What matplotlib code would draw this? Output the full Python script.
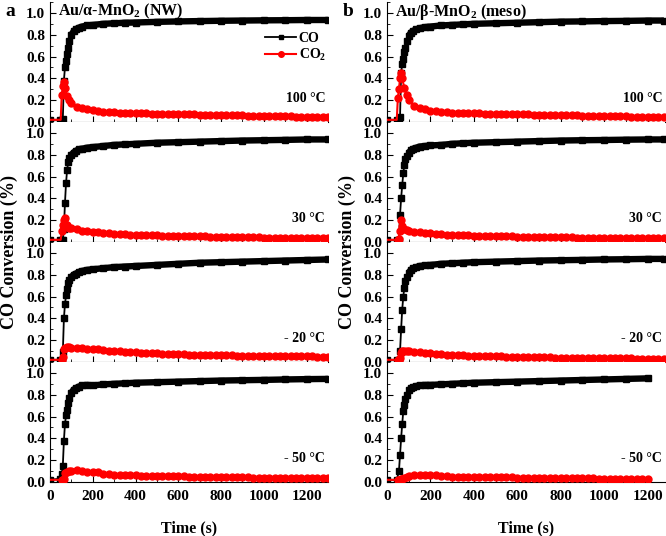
import numpy as np
import matplotlib
matplotlib.use("Agg")
import matplotlib.pyplot as plt
from matplotlib.ticker import MultipleLocator

plt.rcParams['font.family'] = ['Liberation Serif', 'DejaVu Serif']
plt.rcParams['font.weight'] = 'bold'
plt.rcParams['mathtext.fontset'] = 'custom'
plt.rcParams['mathtext.rm'] = 'Liberation Serif:bold'
plt.rcParams['mathtext.it'] = 'Liberation Serif:bold'
plt.rcParams['mathtext.bf'] = 'Liberation Serif:bold'
plt.rcParams['mathtext.default'] = 'rm'

# ---- data ----
titles = ['Au/α-MnO$_2$ (NW)', 'Au/β-MnO$_2$ (meso)']
panel_tags = ['a', 'b']
temps = ['100 °C', '30 °C', '- 20 °C', '- 50 °C']

# column a: time grids (s)
t_co_a = [0, 45, 55, 60, 65, 70, 75, 80, 85, 90, 100, 110, 120, 135, 150, 175, 200,
          250, 300, 350, 400, 500, 600, 700, 800, 900, 1000, 1100, 1200, 1300]
t_co2_a = [0, 50, 55, 60, 65, 70, 80, 90,
           100, 125, 150, 175, 200, 225, 250, 275, 300,
           325, 350, 375, 400, 425, 450, 475, 500, 525, 550,
           575, 600, 625, 650, 675, 700, 725, 750, 775, 800,
           825, 850, 875, 900, 925, 950, 975, 1000, 1025, 1050,
           1075, 1100, 1125, 1150, 1175, 1200, 1225, 1250, 1275, 1300]

co_a1 = [0.02, 0.02, 0.02, 0.03, 0.38, 0.50, 0.56, 0.62, 0.68, 0.74, 0.80, 0.83, 0.85, 0.865,
         0.875, 0.885, 0.89, 0.90, 0.905, 0.91, 0.912, 0.918, 0.922, 0.925, 0.928, 0.93,
         0.932, 0.933, 0.935, 0.935]
co_a2 = [0.02, 0.02, 0.02, 0.02, 0.12, 0.36, 0.54, 0.66, 0.73, 0.77, 0.80, 0.82, 0.835, 0.85,
         0.855, 0.865, 0.87, 0.88, 0.89, 0.895, 0.90, 0.91, 0.915, 0.92, 0.925, 0.93,
         0.933, 0.936, 0.94, 0.94]
co_a3 = [0.02, 0.02, 0.02, 0.09, 0.40, 0.53, 0.61, 0.67, 0.72, 0.75, 0.78, 0.80, 0.81, 0.825,
         0.835, 0.845, 0.85, 0.86, 0.87, 0.875, 0.88, 0.89, 0.90, 0.91, 0.915, 0.92,
         0.925, 0.93, 0.935, 0.94]
co_a4 = [0.02, 0.03, 0.07, 0.15, 0.38, 0.53, 0.61, 0.66, 0.72, 0.77, 0.82, 0.845, 0.86, 0.875,
         0.885, 0.89, 0.885, 0.895, 0.90, 0.905, 0.91, 0.915, 0.92, 0.925, 0.93, 0.933,
         0.936, 0.94, 0.943, 0.945]

co2_a1 = [0.02, 0.02, 0.25, 0.33, 0.37, 0.31, 0.24, 0.20,
          0.17, 0.14, 0.13, 0.12, 0.11, 0.10, 0.095, 0.09, 0.088,
          0.086, 0.084, 0.082, 0.080, 0.079, 0.078, 0.077, 0.076, 0.075, 0.074,
          0.073, 0.072, 0.071, 0.070, 0.069, 0.068, 0.067, 0.066, 0.065, 0.064,
          0.063, 0.062, 0.061, 0.060, 0.059, 0.058, 0.057, 0.056, 0.055, 0.054,
          0.053, 0.052, 0.051, 0.050, 0.049, 0.048, 0.047, 0.047, 0.046, 0.045]
co2_a2 = [0.02, 0.02, 0.10, 0.16, 0.20, 0.22, 0.16, 0.13,
          0.125, 0.115, 0.105, 0.10, 0.095, 0.09, 0.085, 0.08, 0.076,
          0.073, 0.070, 0.068, 0.066, 0.064, 0.062, 0.061, 0.060, 0.059, 0.058,
          0.057, 0.056, 0.055, 0.054, 0.053, 0.052, 0.051, 0.050, 0.049, 0.048,
          0.047, 0.046, 0.045, 0.044, 0.044, 0.043, 0.042, 0.041, 0.041, 0.040,
          0.039, 0.039, 0.038, 0.038, 0.037, 0.037, 0.036, 0.036, 0.035, 0.035]
co2_a3 = [0.02, 0.02, 0.02, 0.05, 0.12, 0.13, 0.135, 0.135,
          0.13, 0.13, 0.125, 0.122, 0.12, 0.115, 0.11, 0.105, 0.10,
          0.097, 0.094, 0.091, 0.088, 0.085, 0.082, 0.080, 0.078, 0.076, 0.074,
          0.072, 0.070, 0.069, 0.068, 0.067, 0.066, 0.065, 0.064, 0.063, 0.062,
          0.061, 0.060, 0.059, 0.058, 0.058, 0.057, 0.056, 0.055, 0.055, 0.054,
          0.054, 0.053, 0.053, 0.052, 0.052, 0.051, 0.051, 0.050, 0.050, 0.050]
co2_a4 = [0.02, 0.02, 0.02, 0.02, 0.03, 0.08, 0.09, 0.10,
          0.105, 0.11, 0.10, 0.095, 0.092, 0.09, 0.075, 0.07, 0.067,
          0.065, 0.063, 0.061, 0.060, 0.059, 0.058, 0.057, 0.056, 0.055, 0.054,
          0.053, 0.052, 0.051, 0.050, 0.049, 0.048, 0.047, 0.046, 0.045, 0.045,
          0.044, 0.044, 0.043, 0.042, 0.042, 0.041, 0.041, 0.040, 0.040, 0.039,
          0.039, 0.038, 0.038, 0.037, 0.037, 0.036, 0.036, 0.035, 0.035, 0.035]

# column b
t_co_b = [0, 45, 55, 60, 65, 70, 75, 80, 85, 90, 100, 110, 120, 135, 150, 175, 200,
          250, 300, 350, 400, 500, 600, 700, 800, 900, 1000, 1100, 1200, 1275]
t_co2_b = [0, 45, 50, 55, 60, 65, 70, 80, 90,
           100, 125, 150, 175, 200, 225, 250, 275, 300,
           325, 350, 375, 400, 425, 450, 475, 500, 525, 550,
           575, 600, 625, 650, 675, 700, 725, 750, 775, 800,
           825, 850, 875, 900, 925, 950, 975, 1000, 1025, 1050,
           1075, 1100, 1125, 1150, 1175, 1200, 1225, 1250, 1275]

co_b1 = [0.02, 0.02, 0.02, 0.05, 0.45, 0.53, 0.58, 0.64, 0.68, 0.74, 0.79, 0.82, 0.835, 0.85,
         0.86, 0.87, 0.875, 0.885, 0.89, 0.895, 0.90, 0.905, 0.91, 0.915, 0.92, 0.922,
         0.925, 0.927, 0.93, 0.93]
co_b2 = [0.02, 0.02, 0.02, 0.25, 0.40, 0.52, 0.63, 0.71, 0.76, 0.79, 0.82, 0.84, 0.855, 0.865,
         0.875, 0.88, 0.885, 0.89, 0.90, 0.905, 0.91, 0.915, 0.92, 0.925, 0.93, 0.933,
         0.935, 0.938, 0.94, 0.94]
co_b3 = [0.02, 0.02, 0.02, 0.10, 0.30, 0.48, 0.60, 0.68, 0.74, 0.78, 0.82, 0.845, 0.86, 0.87,
         0.88, 0.885, 0.89, 0.90, 0.905, 0.91, 0.915, 0.92, 0.925, 0.93, 0.933, 0.936,
         0.94, 0.942, 0.945, 0.945]
co_b4 = [0.02, 0.02, 0.10, 0.25, 0.40, 0.53, 0.65, 0.71, 0.76, 0.80, 0.84, 0.86, 0.87, 0.88,
         0.885, 0.89, 0.89, 0.895, 0.90, 0.905, 0.91, 0.915, 0.92, 0.925, 0.93, 0.935,
         0.94, 0.945, 0.95]

co2_b1 = [0.02, 0.02, 0.22, 0.30, 0.40, 0.45, 0.40, 0.31, 0.25,
          0.20, 0.15, 0.13, 0.115, 0.105, 0.10, 0.095, 0.09, 0.087,
          0.085, 0.083, 0.081, 0.080, 0.078, 0.077, 0.076, 0.075, 0.074, 0.073,
          0.072, 0.071, 0.070, 0.069, 0.068, 0.067, 0.066, 0.065, 0.064, 0.063,
          0.062, 0.061, 0.060, 0.059, 0.058, 0.057, 0.056, 0.055, 0.054, 0.053,
          0.052, 0.051, 0.050, 0.049, 0.048, 0.047, 0.046, 0.046, 0.045]
co2_b2 = [0.02, 0.02, 0.02, 0.03, 0.10, 0.20, 0.15, 0.12, 0.11,
          0.105, 0.095, 0.088, 0.082, 0.078, 0.074, 0.07, 0.067, 0.065,
          0.063, 0.061, 0.060, 0.058, 0.057, 0.056, 0.055, 0.054, 0.053, 0.052,
          0.051, 0.050, 0.049, 0.048, 0.047, 0.046, 0.046, 0.045, 0.044, 0.043,
          0.043, 0.042, 0.041, 0.041, 0.040, 0.040, 0.039, 0.039, 0.038, 0.038,
          0.037, 0.037, 0.037, 0.036, 0.036, 0.036, 0.035, 0.035, 0.035]
co2_b3 = [0.02, 0.02, 0.02, 0.02, 0.04, 0.08, 0.10, 0.105, 0.10,
          0.098, 0.094, 0.09, 0.085, 0.08, 0.076, 0.072, 0.068, 0.065,
          0.062, 0.060, 0.058, 0.056, 0.055, 0.054, 0.053, 0.052, 0.051, 0.050,
          0.049, 0.048, 0.047, 0.046, 0.045, 0.044, 0.043, 0.042, 0.041, 0.040,
          0.040, 0.039, 0.038, 0.038, 0.037, 0.036, 0.036, 0.035, 0.035, 0.034,
          0.034, 0.033, 0.033, 0.032, 0.032, 0.031, 0.031, 0.030, 0.030]
co2_b4 = [0.02, 0.02, 0.02, 0.02, 0.02, 0.025, 0.03, 0.04, 0.045,
          0.055, 0.065, 0.065, 0.068, 0.065, 0.06, 0.055, 0.052, 0.05,
          0.049, 0.048, 0.047, 0.046, 0.045, 0.045, 0.044, 0.043, 0.043, 0.042,
          0.042, 0.041, 0.040, 0.040, 0.039, 0.039, 0.038, 0.037, 0.037, 0.036,
          0.036, 0.035, 0.034, 0.034, 0.033, 0.033, 0.032, 0.031, 0.031, 0.030,
          0.029, 0.028, 0.027, 0.026, 0.026, 0.025]

columns = [
    dict(t_co=t_co_a, t_co2=t_co2_a, co=[co_a1, co_a2, co_a3, co_a4],
         co2=[co2_a1, co2_a2, co2_a3, co2_a4], xmax=1300),
    dict(t_co=t_co_b, t_co2=t_co2_b, co=[co_b1, co_b2, co_b3, co_b4],
         co2=[co2_b1, co2_b2, co2_b3, co2_b4], xmax=1280),
]

W, H = 666, 536
fig = plt.figure(figsize=(W / 100, H / 100), dpi=100)

col_left = [50, 387]
col_w = 278
row_h = 120
row_bottom = [122, 242, 362, 482]

for c, col in enumerate(columns):
    for r in range(4):
        ax = fig.add_axes([col_left[c] / W, 1 - row_bottom[r] / H, col_w / W, row_h / H])
        t1 = np.array(col['t_co'][:len(col['co'][r])])
        y1 = np.array(col['co'][r])
        t2 = np.array(col['t_co2'][:len(col['co2'][r])])
        y2 = np.array(col['co2'][r])

        l_co, = ax.plot(t1, y1, color='black', lw=1.3, marker='s', ms=4, zorder=3, label='CO')
        plat = t1 >= 95
        ax.plot(t1[plat], y1[plat], color='black', lw=4.6, solid_capstyle='butt', zorder=3)
        l_co2, = ax.plot(t2, y2, color='red', lw=1.5, marker='o', ms=5,
                         markevery=slice(2, None), zorder=4, label='CO$_2$')

        ax.set_xlim(0, col['xmax'])
        ax.set_ylim(0, 1.1)
        ax.spines['top'].set_visible(False)
        ax.spines['right'].set_visible(False)
        ax.xaxis.set_major_locator(MultipleLocator(200))
        ax.xaxis.set_minor_locator(MultipleLocator(100))
        ax.yaxis.set_major_locator(MultipleLocator(0.2))
        ax.yaxis.set_minor_locator(MultipleLocator(0.1))
        ax.tick_params(which='both', direction='in', labelsize=11)
        ax.tick_params(axis='x', pad=6)
        ax.tick_params(which='major', length=4)
        ax.tick_params(which='minor', length=2)
        ax.set_yticks([0.0, 0.2, 0.4, 0.6, 0.8, 1.0])
        ax.yaxis.set_major_formatter(plt.FormatStrFormatter('%.1f'))
        if r < 3:
            ax.tick_params(axis='x', labelbottom=False)
        else:
            ax.set_xlabel('Time (s)', fontsize=11.5, fontweight='bold', labelpad=12)

        ax.text(0.99, 0.2, temps[r], transform=ax.transAxes, ha='right', va='center',
                fontsize=10, fontweight='bold')
        if r == 0:
            ax.text(0.03, 0.92, titles[c], transform=ax.transAxes, ha='left', va='center',
                    fontsize=11.5, fontweight='bold')
            if c == 0:
                ax.legend(handles=[l_co, l_co2], loc='center left',
                          bbox_to_anchor=(0.73, 0.62), frameon=False, fontsize=10,
                          handlelength=2.2, labelspacing=0.15, markerscale=0.8,
                          handletextpad=0.2)

for c in range(2):
    fig.text((5 if c == 0 else 343) / W, 1 - 12 / H, panel_tags[c],
             fontsize=14, fontweight='bold', ha='left', va='center')
    fig.text((9 if c == 0 else 347) / W, 1 - 252 / H, 'CO Conversion (%)',
             rotation=90, fontsize=13, fontweight='bold', ha='center', va='center')

fig.savefig('out.png', dpi=100)
